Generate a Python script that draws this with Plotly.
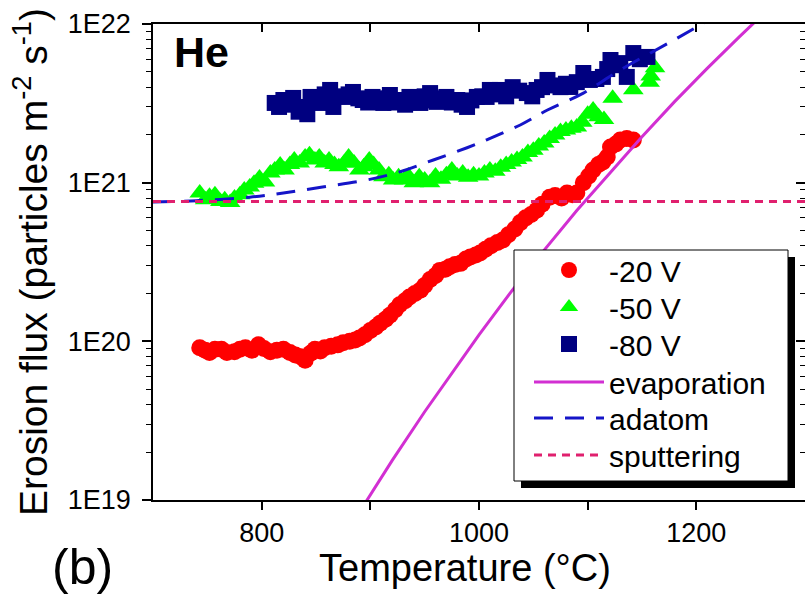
import plotly.graph_objects as go

# ---------------- data ----------------
red_T = [743, 748, 752, 757, 763, 768, 775, 780, 785, 791, 797, 802, 808, 814, 820, 826, 831, 836,
         840, 845, 849, 854, 858, 864, 870, 875, 881, 886, 890, 895, 900, 905, 909, 914, 918, 923,
         927, 932, 936, 941, 946, 950, 955, 960, 964, 969, 973, 978, 983, 988, 992, 997, 1001, 1006,
         1011, 1017, 1022, 1027, 1033, 1038, 1043, 1048, 1053, 1058, 1065, 1070, 1076, 1081, 1086,
         1090, 1096, 1101, 1105, 1110, 1114, 1118, 1121, 1126, 1130, 1136, 1142]
red_flux = [9.1e19, 8.8e19, 8.5e19, 8.9e19, 8.9e19, 8.5e19, 8.6e19, 8.9e19, 9.1e19, 8.8e19, 9.5e19,
            9.0e19, 8.6e19, 8.8e19, 8.9e19, 8.5e19, 8.2e19, 8.0e19, 7.6e19, 8.4e19, 8.9e19, 8.7e19,
            9.1e19, 9.3e19, 9.5e19, 9.8e19, 1.0e20, 1.02e20, 1.05e20, 1.1e20, 1.17e20, 1.23e20,
            1.3e20, 1.38e20, 1.46e20, 1.58e20, 1.7e20, 1.8e20, 1.9e20, 2.0e20, 2.1e20, 2.25e20,
            2.45e20, 2.6e20, 2.8e20, 2.85e20, 2.95e20, 3.05e20, 3.1e20, 3.3e20, 3.4e20, 3.5e20,
            3.6e20, 3.8e20, 4.0e20, 4.2e20, 4.35e20, 4.7e20, 5.1e20, 5.6e20, 6.0e20, 6.3e20, 6.7e20,
            7.3e20, 8.1e20, 8.3e20, 8.0e20, 8.6e20, 8.4e20, 8.6e20, 1.0e21, 1.1e21, 1.2e21, 1.3e21,
            1.35e21, 1.45e21, 1.68e21, 1.75e21, 1.86e21, 1.9e21, 1.86e21]

green_T = [743, 748, 752, 757, 762, 766, 771, 775, 780, 784, 789, 793, 798, 803, 808, 812, 817, 821,
           826, 830, 835, 840, 844, 849, 853, 858, 862, 867, 871, 876, 880, 885, 890, 894, 899, 903,
           908, 912, 917, 921, 926, 931, 935, 940, 945, 950, 955, 960, 965, 970, 975, 980, 985, 990,
           995, 1000, 1005, 1010, 1015, 1020, 1025, 1030, 1035, 1040, 1045, 1050, 1055, 1060, 1065,
           1070, 1075, 1080, 1085, 1090, 1095, 1100, 1105, 1110, 1115, 1123, 1142, 1157, 1158, 1162]
green_flux = [8.6e20, 7.8e20, 8.2e20, 8.4e20, 7.6e20, 7.8e20, 7.5e20, 8.0e20, 8.4e20, 9.0e20, 9.4e20,
              9.9e20, 1.07e21, 1.01e21, 1.15e21, 1.2e21, 1.29e21, 1.2e21, 1.3e21, 1.39e21, 1.33e21,
              1.45e21, 1.5e21, 1.39e21, 1.45e21, 1.33e21, 1.39e21, 1.3e21, 1.26e21, 1.33e21, 1.45e21,
              1.33e21, 1.2e21, 1.26e21, 1.39e21, 1.3e21, 1.2e21, 1.09e21, 1.12e21, 1.04e21, 1.09e21,
              1.04e21, 1.1e21, 1.0e21, 1.09e21, 1.04e21, 1.0e21, 1.1e21, 1.05e21, 1.12e21, 1.2e21,
              1.1e21, 1.15e21, 1.08e21, 1.12e21, 1.1e21, 1.15e21, 1.2e21, 1.18e21, 1.25e21, 1.3e21,
              1.35e21, 1.4e21, 1.45e21, 1.55e21, 1.6e21, 1.7e21, 1.78e21, 1.9e21, 2.0e21, 2.1e21,
              2.15e21, 2.2e21, 2.24e21, 2.4e21, 2.7e21, 2.87e21, 2.6e21, 2.5e21, 3.4e21, 3.85e21,
              4.3e21, 4.7e21, 5.3e21]

blue_T = [812, 816, 820, 824, 829, 834, 838, 842, 845, 850, 854, 858, 863, 866, 870, 875, 880, 884,
          889, 893, 898, 902, 907, 912, 915, 918, 923, 927, 932, 936, 941, 946, 950, 955, 958, 961,
          966, 970, 975, 980, 984, 989, 993, 998, 1003, 1007, 1010, 1015, 1019, 1025, 1031, 1037,
          1044, 1049, 1053, 1058, 1063, 1068, 1075, 1080, 1084, 1090, 1096, 1102, 1108, 1114, 1118,
          1121, 1126, 1130, 1136, 1142, 1148, 1155]
blue_flux = [3.18e21, 3.0e21, 3.32e21, 3.1e21, 3.42e21, 2.8e21, 3.0e21, 2.7e21, 3.47e21, 3.3e21,
             3.18e21, 3.6e21, 3.84e21, 3.0e21, 3.5e21, 3.47e21, 3.6e21, 3.73e21, 3.4e21, 3.32e21,
             3.2e21, 3.47e21, 3.3e21, 3.18e21, 3.4e21, 3.57e21, 3.2e21, 3.32e21, 3.1e21, 3.47e21,
             3.3e21, 3.18e21, 3.5e21, 3.67e21, 3.3e21, 3.23e21, 3.4e21, 3.47e21, 3.2e21, 3.32e21,
             3.1e21, 3.0e21, 3.3e21, 3.47e21, 3.5e21, 3.47e21, 3.84e21, 3.6e21, 3.84e21, 3.5e21,
             4.0e21, 3.8e21, 3.67e21, 3.5e21, 3.84e21, 4.0e21, 4.44e21, 4.1e21, 4.0e21, 4.2e21,
             4.01e21, 4.3e21, 4.91e21, 4.44e21, 4.5e21, 4.64e21, 5.2e21, 5.93e21, 5.5e21, 5.67e21,
             4.64e21, 6.56e21, 6.0e21, 6.2e21]

evap_T = [890, 897, 920, 950, 980, 1000, 1030, 1060, 1090, 1120, 1150, 1180, 1210, 1240, 1252, 1260]
evap_flux = [8.4e18, 1.0e19, 1.77e19, 3.6e19, 7.1e19, 1.1e20, 2.07e20, 3.76e20, 6.67e20, 1.15e21,
             1.95e21, 3.24e21, 5.25e21, 8.35e21, 1.0e22, 1.13e22]

adatom_T = [700, 740, 789, 820, 856, 897, 927, 958, 989, 1007, 1038, 1063, 1096, 1130, 1179, 1205, 1215]
adatom_flux = [7.55e20, 7.7e20, 8.1e20, 8.6e20, 9.4e20, 1.04e21, 1.17e21, 1.39e21, 1.66e21, 1.86e21,
               2.31e21, 2.87e21, 3.67e21, 5.13e21, 7.9e21, 1.0e22, 1.1e22]

sputter_T = [700, 1300]
sputter_flux = [7.6e20, 7.6e20]

x_ticks = [800, 1000, 1200]
x_ticktext = ["800", "1000", "1200"]
x_minor_ticks = [900, 1100]
y_ticks = [1e19, 1e20, 1e21, 1e22]
y_ticktext = ["1E19", "1E20", "1E21", "1E22"]

# ---------------- figure ----------------
FONT = "Arial, 'Liberation Sans', sans-serif"
W, H = 805, 596
ML, MR, MT, MB = 153, 0, 24, 96
PW, PH = W - ML - MR, H - MT - MB

def px(x):
    return (x - ML) / PW

def py(y):
    return (H - MB - y) / PH

fig = go.Figure()
fig.add_trace(go.Scatter(x=red_T, y=red_flux, mode="markers", name="-20 V", legend="legend",
                         marker=dict(symbol="circle", size=17, color="#ff0000")))
fig.add_trace(go.Scatter(x=green_T, y=green_flux, mode="markers", name="-50 V", legend="legend2",
                         marker=dict(symbol="triangle-up", size=18, color="#00ff00")))
fig.add_trace(go.Scatter(x=blue_T, y=blue_flux, mode="markers", name="-80 V", legend="legend3",
                         marker=dict(symbol="square", size=16, color="#000080")))
fig.add_trace(go.Scatter(x=evap_T, y=evap_flux, mode="lines", name="evaporation", legend="legend4",
                         line=dict(color="#d22fd2", width=3)))
fig.add_trace(go.Scatter(x=adatom_T, y=adatom_flux, mode="lines", name="adatom", legend="legend5",
                         line=dict(color="#1515c8", width=3, dash="19px,12px"), line_shape="spline"))
fig.add_trace(go.Scatter(x=sputter_T, y=sputter_flux, mode="lines", name="sputtering", legend="legend6",
                         line=dict(color="#e0206e", width=3, dash="8px,6px")))
# empty trace to anchor the mirrored (top/right) axes
fig.add_trace(go.Scatter(x=[], y=[], xaxis="x2", yaxis="y2", showlegend=False))

minor_y = [float(m) * 10.0 ** e for e in (19, 20, 21) for m in range(2, 10)]

axis_common = dict(showline=True, linecolor="black", linewidth=1.6, showgrid=False, zeroline=False,
                   tickcolor="black", tickwidth=1.5)

legend_rows = [270, 307, 344, 382, 418, 455]
legends = {}
for i, yc in enumerate(legend_rows):
    key = "legend" if i == 0 else f"legend{i + 1}"
    legends[key] = dict(x=px(529), y=py(yc), xanchor="left", yanchor="middle",
                        bgcolor="rgba(0,0,0,0)", borderwidth=0, font=dict(size=30),
                        itemwidth=70)

fig.update_layout(
    width=W, height=H,
    margin=dict(l=ML, r=MR, t=MT, b=MB, pad=0),
    paper_bgcolor="white", plot_bgcolor="white",
    font=dict(family=FONT, color="black"),
    xaxis=dict(range=[700, 1300], tickvals=x_ticks, ticktext=x_ticktext, ticks="outside",
               ticklen=8, tickfont=dict(size=27),
               minor=dict(tickvals=x_minor_ticks, ticks="outside", ticklen=8, tickcolor="black", tickwidth=1.5),
               **axis_common),
    xaxis2=dict(range=[700, 1300], overlaying="x", side="top", tickvals=x_ticks, ticks="inside",
                ticklen=8, showticklabels=False,
                minor=dict(tickvals=x_minor_ticks, ticks="inside", ticklen=8, tickcolor="black", tickwidth=1.5),
                **axis_common),
    yaxis=dict(type="log", range=[19, 22], tickvals=y_ticks, ticktext=y_ticktext, ticks="outside",
               ticklen=9, tickfont=dict(size=27), ticklabelstandoff=6,
               minor=dict(tickvals=minor_y, ticks="outside", ticklen=5, tickcolor="black", tickwidth=1.3),
               **axis_common),
    yaxis2=dict(type="log", range=[19, 22], overlaying="y", side="right", tickvals=y_ticks,
                ticks="inside", ticklen=9, showticklabels=False,
                minor=dict(tickvals=minor_y, ticks="inside", ticklen=5, tickcolor="black", tickwidth=1.3),
                **axis_common),
    showlegend=True,
    **legends,
)

# legend frame with drop shadow
fig.add_shape(type="rect", xref="paper", yref="paper", x0=px(521), x1=px(795), y0=py(488), y1=py(257),
              fillcolor="black", line=dict(width=0), layer="above")
fig.add_shape(type="rect", xref="paper", yref="paper", x0=px(514), x1=px(788), y0=py(481), y1=py(250),
              fillcolor="white", line=dict(color="black", width=1), layer="above")

# axis titles
fig.add_annotation(xref="paper", yref="paper", x=px(30), y=0.5, xanchor="center", yanchor="middle",
                   text="Erosion flux (particles m<sup>-2</sup> s<sup>-1</sup>)", textangle=-90,
                   showarrow=False, font=dict(size=39))
fig.add_annotation(xref="paper", yref="paper", x=px(465), y=py(545), xanchor="center", yanchor="top",
                   text="Temperature (°C)", showarrow=False, font=dict(size=38))
# panel labels
fig.add_annotation(xref="paper", yref="paper", x=px(172), y=py(52), xanchor="left", yanchor="middle",
                   text="<b>He</b>", showarrow=False, font=dict(size=43))
fig.add_annotation(xref="paper", yref="paper", x=px(50), y=py(567), xanchor="left", yanchor="middle",
                   text="(b)", showarrow=False, font=dict(size=50))

fig.write_html("out.html")
